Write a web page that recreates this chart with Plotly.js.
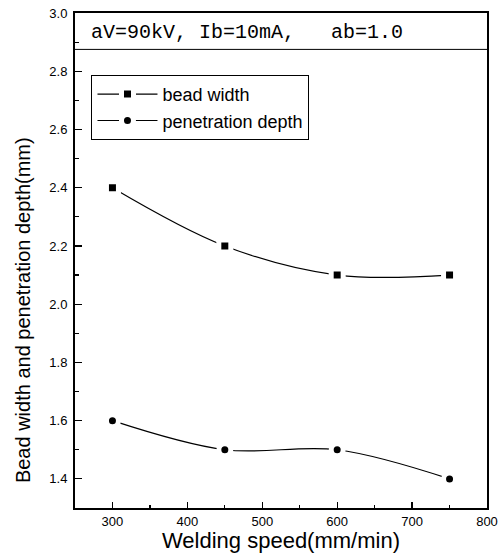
<!DOCTYPE html>
<html>
<head>
<meta charset="utf-8">
<script src="https://cdn.plot.ly/plotly-3.0.1.min.js"></script>
<style>html,body{margin:0;padding:0;background:#fff;}#chart{width:500px;height:553px;}</style>
</head>
<body>
<div id="chart"></div>
<script>
const speeds = [300, 450, 600, 750];
const beadWidth = [2.4, 2.2, 2.1, 2.1];
const penetrationDepth = [1.6, 1.5, 1.5, 1.4];
const seriesNames = ['bead width', 'penetration depth'];
const conditionText = 'aV=90kV, Ib=10mA,   ab=1.0';
const xTitle = 'Welding speed(mm/min)';
const yTitle = 'Bead width and penetration depth(mm)';
const separatorY = 2.875;

const markerCommon = {color: '#000', size: 12, line: {color: '#fff', width: 5}};
const traces = [
  {x: speeds, y: beadWidth, name: seriesNames[0], type: 'scatter', mode: 'lines+markers',
   line: {shape: 'spline', color: '#000', width: 1.2},
   marker: Object.assign({symbol: 'square'}, markerCommon)},
  {x: speeds, y: penetrationDepth, name: seriesNames[1], type: 'scatter', mode: 'lines+markers',
   line: {shape: 'spline', color: '#000', width: 1.2},
   marker: Object.assign({symbol: 'circle'}, markerCommon)}
];

const font = 'Liberation Sans, Arial, sans-serif';
const layout = {
  width: 500, height: 553,
  margin: {l: 75, r: 13, t: 13, b: 45},
  paper_bgcolor: '#fff', plot_bgcolor: '#fff',
  showlegend: true,
  legend: {x: 0.04, y: 0.875, xanchor: 'left', yanchor: 'top',
    bordercolor: '#000', borderwidth: 1, bgcolor: '#fff',
    font: {family: font, size: 18, color: '#000'}, itemwidth: 60,
    tracegroupgap: 0},
  xaxis: {range: [250, 800], dtick: 100, tick0: 0, ticks: 'inside', ticklen: 6, tickwidth: 1.2, tickcolor: '#000',
    minor: {dtick: 50, ticks: 'inside', ticklen: 3, tickcolor: '#000', tickwidth: 1.2},
    showline: true, linecolor: '#000', linewidth: 2, mirror: true, showgrid: false, zeroline: false,
    tickfont: {family: font, size: 13, color: '#000'},
    title: {text: xTitle, font: {family: font, size: 22, color: '#000'}, standoff: 10}},
  yaxis: {range: [1.3, 3.0], dtick: 0.2, tick0: 0, tickformat: '.1f', ticks: 'inside', ticklen: 7, tickwidth: 1.2, tickcolor: '#000',
    minor: {dtick: 0.1, ticks: 'inside', ticklen: 4, tickcolor: '#000', tickwidth: 1.2},
    showline: true, linecolor: '#000', linewidth: 2, mirror: true, showgrid: false, zeroline: false,
    tickfont: {family: font, size: 13, color: '#000'}, ticklabelstandoff: 3},
  shapes: [{type: 'line', xref: 'paper', x0: 0, x1: 1, yref: 'y', y0: separatorY, y1: separatorY, line: {color: '#000', width: 1}}],
  annotations: [
    {xref: 'paper', yref: 'paper', x: 0.035, y: 0.96, xanchor: 'left', yanchor: 'middle', showarrow: false,
     text: conditionText.replace(/ /g, '&nbsp;'), font: {family: 'Liberation Mono, Courier New, monospace', size: 20, color: '#000'}},
    {xref: 'paper', yref: 'paper', x: -0.126, y: 0.4, xanchor: 'center', yanchor: 'middle', showarrow: false, textangle: -90,
     text: yTitle, font: {family: font, size: 20, color: '#000'}}
  ]
};
Plotly.newPlot('chart', traces, layout, {displayModeBar: false, staticPlot: true});
</script>
</body>
</html>
